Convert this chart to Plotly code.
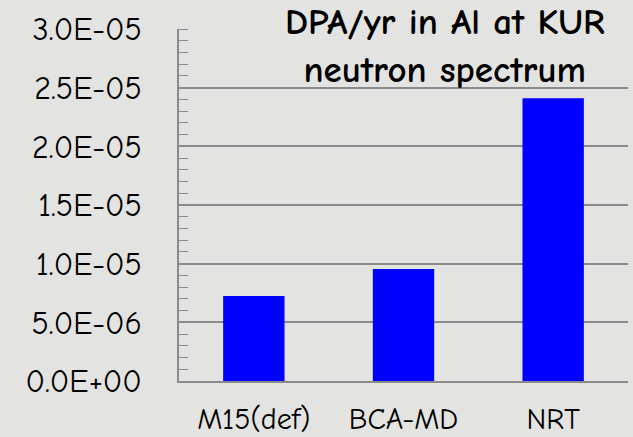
import plotly.graph_objects as go

categories = ["M15(def)", "BCA-MD", "NRT"]
dpa_per_year = [7.25e-6, 9.55e-6, 2.41e-5]
y_tick_values = [0, 5e-6, 1e-5, 1.5e-5, 2e-5, 2.5e-5, 3e-5]
y_tick_labels = ["0.0E+00", "5.0E-06", "1.0E-05", "1.5E-05", "2.0E-05", "2.5E-05", "3.0E-05"]
title_text = "DPA/yr in Al at KUR<br>neutron spectrum"

FONT = "Comic Sans MS, Comic Neue, DejaVu Sans, sans-serif"
GRAY = "#8a8a8a"
BG = "#e3e3e1"

fig = go.Figure(
    go.Bar(
        x=categories,
        y=dpa_per_year,
        marker=dict(color="#0000ff", line=dict(width=0)),
        width=0.41,
    )
)

fig.update_layout(
    width=633,
    height=437,
    margin=dict(l=179, r=5, t=29, b=56),
    paper_bgcolor=BG,
    plot_bgcolor=BG,
    showlegend=False,
    font=dict(family=FONT, color="black"),
    xaxis=dict(
        range=[-0.5, 2.5],
        automargin=False,
        showgrid=False,
        showline=True,
        linecolor=GRAY,
        linewidth=1.5,
        ticks="",
        tickfont=dict(size=30),
        ticklabelstandoff=10,
    ),
    yaxis=dict(
        range=[0, 3e-5],
        automargin=False,
        tickvals=y_tick_values,
        ticktext=y_tick_labels,
        showgrid=True,
        gridcolor=GRAY,
        gridwidth=1.5,
        zeroline=False,
        showline=True,
        linecolor=GRAY,
        linewidth=1.5,
        ticks="",
        tickfont=dict(size=32),
        ticklabelstandoff=29,
        minor=dict(dtick=1e-6, ticks="inside", ticklen=9, tickcolor=GRAY, tickwidth=1, showgrid=False),
    ),
    annotations=[
        dict(
            text="<b>" + title_text + "</b>",
            xref="paper", yref="paper",
            x=0.592, y=1.0,
            xanchor="center", yanchor="middle",
            yshift=-17,
            showarrow=False,
            font=dict(size=37, family=FONT, color="black"),
            align="center",
        )
    ],
)

fig.write_html(
    "out.html",
    config={"displayModeBar": False},
    post_script=(
        "document.body.style.margin='0';"
        "document.body.style.padding='0';"
        "document.body.style.overflow='hidden';"
        "document.body.style.background='" + BG + "';"
    ),
)
